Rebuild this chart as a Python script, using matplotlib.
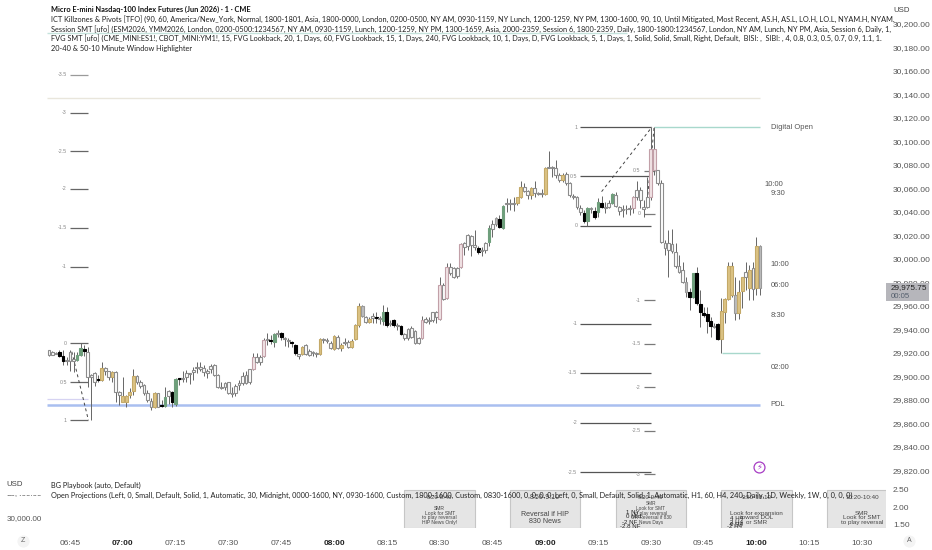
import matplotlib
matplotlib.use('Agg')
import matplotlib.pyplot as plt
from matplotlib.ticker import FuncFormatter
from matplotlib.transforms import Bbox

# one minute candles, first one is 06:39 (minutes since midnight)
first_minute = 399

body_top = [
    29922.5, 29921, 29920, 29920.5, 29917.5, 29914, 29921, 29914.5, 29918.25, 29924,
    29923, 29921, 29901.25, 29903.25, 29897.5, 29907.5, 29907, 29904.75, 29904, 29904,
    29887, 29883.75, 29883.75, 29887, 29900.25, 29900.25, 29895.5, 29892.75, 29886.25, 29879.5,
    29886.25, 29885.75, 29875.5, 29882.75, 29887.5, 29886.75, 29898.25, 29898.5, 29898.5, 29902.75,
    29902.75, 29905.5, 29907.75, 29908.5, 29907, 29905, 29909.25, 29909.75, 29901.25, 29891.5,
    29894.75, 29895, 29885.75, 29892.25, 29894.25, 29900.5, 29901.5, 29906, 29917, 29917,
    29917, 29931.5, 29932.25, 29931.5, 29936, 29937.25, 29936.75, 29932.5, 29931, 29929.75,
    29926.75, 29919.25, 29925.5, 29926.75, 29922, 29920.5, 29919.75, 29931.75, 29931.75, 29931,
    29928.75, 29934.5, 29934, 29926.75, 29929.5, 29929.75, 29930.5, 29943.75, 29960, 29960,
    29951, 29948.75, 29951.5, 29951, 29949.75, 29955.25, 29954.5, 29945.75, 29948, 29943.75,
    29943.25, 29936.25, 29940.25, 29941, 29938.75, 29932.5, 29948, 29948.75, 29948, 29954.5,
    29955.25, 29977.9, 29977.9, 29993.5, 29993.5, 29992, 29992, 30012.8, 30013.4, 30020.4,
    30019.6, 30011.9, 30009.1, 30007.7, 30013.9, 30026.1, 30029.8, 30034.6, 30033.8, 30045.4,
    30047.4, 30047.4, 30047.4, 30052.5, 30061.6, 30061.6, 30058.2, 30060.2, 30060.2, 30056.2,
    30055.9, 30077.2, 30078, 30078, 30077.2, 30071.5, 30071.5, 30072.1, 30064.4, 30053.6,
    30053, 30043.7, 30039.4, 30043.1, 30043.4, 30041.1, 30048.8, 30047.9, 30044.5, 30047.9,
    30055.3, 30054.5, 30044, 30042.5, 30042.8, 30043.1, 30052.5, 30058.7, 30058.7, 30044,
    30052.5, 30093.3, 30093.3, 30075.7, 30064.4, 30013.9, 30013.3, 30012.8, 30006.2, 29994,
    29990.6, 29980.7, 29972.2, 29987.8, 29988.4, 29961.7, 29954.3, 29952.9, 29947.2, 29943,
    29944.4, 29956, 29965.7, 29994, 29994, 29969.4, 29972.2, 29985, 29989.2, 29990.6,
    29992, 30011, 30011,
]
body_bot = [
    29918.5, 29918.5, 29919.5, 29917.5, 29913, 29913, 29913, 29913, 29914, 29918.25,
    29922, 29899.75, 29899.75, 29895.5, 29897, 29897, 29905, 29899.25, 29899.75, 29887,
    29884.25, 29878.5, 29878.5, 29884.25, 29888, 29895.5, 29892, 29886.25, 29880, 29873.75,
    29874.25, 29874.25, 29875, 29875, 29883.5, 29878.5, 29877, 29898, 29898.25, 29900,
    29901.75, 29904, 29907, 29906.75, 29904, 29902.75, 29906, 29901.25, 29891.5, 29890.5,
    29890.75, 29886.25, 29884.75, 29885.75, 29892.75, 29894.75, 29894.75, 29895.25, 29906, 29912.75,
    29912.75, 29917.5, 29931.5, 29930.5, 29929.75, 29936, 29934, 29932, 29930.5, 29928.25,
    29919.75, 29917.5, 29919.25, 29919.25, 29918.25, 29920, 29919.25, 29919.25, 29931.25, 29930.25,
    29924, 29923, 29924, 29924, 29928.25, 29925.5, 29925.5, 29931.75, 29943.75, 29951.5,
    29946.75, 29946.75, 29949.5, 29949.75, 29949.25, 29947.5, 29943.75, 29944.75, 29943.75, 29943.25,
    29936.25, 29932.5, 29932.5, 29934, 29928.75, 29928.25, 29932.5, 29946.75, 29947.25, 29948,
    29950.5, 29948.7, 29966, 29966.5, 29987.8, 29985, 29985.5, 29992.9, 30009.9, 30011,
    30011.9, 30009.9, 30006.3, 30006.8, 30007.7, 30014.8, 30025.3, 30029.8, 30027.5, 30026.1,
    30046.5, 30046.8, 30046.8, 30047.4, 30052.5, 30058.2, 30054.5, 30054.5, 30056.5, 30055.6,
    30055.3, 30055, 30077.5, 30077.5, 30071.5, 30067.3, 30067.3, 30065, 30054.5, 30053,
    30044, 30040.3, 30032.6, 30032.6, 30042.5, 30036, 30040.3, 30044.5, 30043.7, 30044.5,
    30047.9, 30045.1, 30041.1, 30042, 30042.3, 30042.3, 30043.1, 30052.5, 30050.2, 30042.3,
    30044.5, 30052.5, 30075.7, 30064.4, 30014.8, 30009.1, 30007.7, 30007.1, 29994, 29989.2,
    29980.7, 29972.2, 29968, 29967.4, 29962.3, 29955.2, 29952.3, 29947.5, 29943, 29942.4,
    29931.6, 29931.6, 29955.2, 29965.7, 29969.4, 29953.8, 29954.3, 29972.8, 29985, 29975,
    29974.2, 29975, 29975.75,
]
highs = [
    29922.5, 29921.5, 29921, 29922.5, 29922.5, 29917, 29922.5, 29921, 29921, 29928.25,
    29926.75, 29925.5, 29902, 29904, 29901.25, 29912.75, 29908.5, 29905, 29904.75, 29905,
    29888, 29899.25, 29884.25, 29890, 29906, 29901.25, 29897, 29893.25, 29888.5, 29881.5,
    29887, 29886.25, 29880, 29891.25, 29888.5, 29888, 29899, 29899, 29905, 29905.5,
    29903.25, 29908.5, 29912.75, 29912, 29909.75, 29906, 29910.75, 29910.75, 29902, 29895.75,
    29895.75, 29895.75, 29890.75, 29893.5, 29897, 29904, 29905, 29906.75, 29920.25, 29919.75,
    29918.25, 29932.5, 29936.75, 29935.25, 29936.75, 29939.75, 29938.25, 29933.5, 29932.5, 29930.5,
    29927.5, 29919.5, 29926, 29928, 29923, 29922, 29921, 29932.5, 29932.5, 29932.5,
    29930.5, 29935.25, 29935, 29928.25, 29932.5, 29931, 29931.75, 29944.75, 29962.25, 29960.75,
    29951.5, 29950.5, 29953.75, 29955.25, 29951.5, 29960.75, 29959.5, 29948, 29948.75, 29945.25,
    29943.75, 29936.75, 29941, 29943, 29939.5, 29933.5, 29951.5, 29951, 29950.5, 29955.25,
    29956, 29984.4, 29979.3, 29996.3, 29996.3, 29993.5, 29993.5, 30013.4, 30014.8, 30021.3,
    30020.4, 30024.7, 30011, 30010, 30014.8, 30029, 30033.2, 30035.5, 30037.5, 30046,
    30051.7, 30050.8, 30053, 30053, 30066.7, 30064.4, 30058.7, 30061.6, 30066.7, 30057.3,
    30059.3, 30078, 30091.9, 30079.2, 30084.3, 30072.9, 30072.9, 30074.3, 30065.8, 30055.3,
    30053.6, 30046, 30041.7, 30044, 30044.5, 30044, 30051.6, 30053.6, 30048.8, 30050.2,
    30056.5, 30057.3, 30045.1, 30046, 30046, 30046, 30053.6, 30066.4, 30061.6, 30050.2,
    30070, 30112, 30112, 30075.7, 30067.2, 30016.2, 30024.7, 30025.2, 30013.3, 30003.4,
    29997.7, 29985, 29975, 29988.4, 29993.5, 29973.6, 29959.4, 29959.4, 29950.9, 29945.3,
    29945.3, 29966.5, 29966.5, 29997.7, 29997.7, 29985, 29982.1, 29985, 29997.7, 29994.9,
    29997.7, 30019, 30011.9,
]
lows = [
    29917.5, 29918, 29919, 29917, 29909.75, 29909.75, 29905, 29904, 29913.5, 29917.5,
    29917.5, 29891.25, 29863, 29892, 29895.5, 29896.5, 29901.25, 29897, 29895.5, 29878.5,
    29875.75, 29878.5, 29873.75, 29881.5, 29884.25, 29894, 29890, 29884.25, 29878.5, 29871.5,
    29873, 29873.75, 29873.75, 29874.25, 29877, 29873.75, 29875, 29892.75, 29895.75, 29895.75,
    29893.75, 29897, 29902.75, 29905, 29900.5, 29898.5, 29902.75, 29900.5, 29890, 29889,
    29888.5, 29885.25, 29883, 29883.5, 29888.5, 29892.75, 29893.75, 29893.75, 29905.5, 29911.25,
    29909.75, 29916.25, 29926.75, 29927.75, 29925.5, 29933.5, 29931.5, 29926, 29925.5, 29925.5,
    29918.25, 29914.75, 29918.25, 29918, 29917.5, 29917.5, 29917, 29918.25, 29928.25, 29928.25,
    29923, 29922.5, 29923, 29922, 29926.75, 29924.25, 29924.25, 29931, 29942.5, 29950.5,
    29945.75, 29945.25, 29945.25, 29945.25, 29944.75, 29943.75, 29941.75, 29943, 29941.75, 29940,
    29935.25, 29931, 29931, 29932.5, 29927.75, 29927.5, 29931.75, 29945.25, 29944.5, 29946.75,
    29945.75, 29948, 29965, 29965.7, 29986.4, 29983.6, 29983.6, 29992, 30003.4, 30007.7,
    30002.6, 30007.7, 30004.3, 30002.6, 30005.4, 30011, 30019, 30028, 30026.1, 30025.3,
    30040.3, 30041.7, 30041.2, 30046, 30051.7, 30057.3, 30050.8, 30050.8, 30053, 30054.5,
    30052.5, 30054.5, 30077.2, 30070.1, 30068.7, 30065.8, 30065.8, 30063, 30053, 30050.8,
    30042.3, 30037.4, 30030.4, 30028.1, 30038.9, 30033.8, 30035.5, 30043.1, 30038.9, 30043.1,
    30046.8, 30044, 30037.4, 30036, 30038.3, 30037.4, 30038.9, 30050.2, 30043.1, 30036,
    30043.1, 30050.2, 30071.5, 30063, 30013.3, 30003.4, 29985, 30004.8, 29992, 29987.8,
    29979.3, 29968, 29956.6, 29966.5, 29960.9, 29942.4, 29950.9, 29936.7, 29933.9, 29941,
    29931, 29920.3, 29945.3, 29965.1, 29968, 29948.1, 29948.7, 29958, 29973.6, 29965.1,
    29965.1, 29969.4, 29969.4,
]

# candle numbers (1 based) for the body colours, anything else is white
black_candles = [4, 5, 11, 15, 33, 36, 38, 64, 67, 70, 71, 94, 97, 99, 101, 123, 129, 153, 156, 158,
                 183, 185, 186, 187, 188, 189, 191]
green_candles = [9, 10, 34, 37, 65, 96, 126, 130, 154, 157, 161, 184]
tan_candles = [16, 19, 22, 23, 24, 25, 31, 73, 78, 82, 84, 87, 88, 89, 92, 134, 135, 138, 142, 147,
               192, 193, 194, 195, 197, 198, 200, 202]
pink_candles = [59, 62, 107, 112, 114, 118, 167, 172, 173]
grey_candles = [90, 128, 182, 196, 203]

# fib style levels: label, price
fib_a = [('0', 29928.5), ('0.5', 29895.3), ('1', 29863), ('-1', 29993.2), ('-1.5', 30026.4),
         ('-2', 30059.6), ('-2.5', 30091.9), ('-3', 30124.3), ('-3.5', 30156.6)]
fib_b = [('1', 30112.3), ('0.5', 30070.6), ('0', 30028.4), ('-1', 29944.7), ('-1.5', 29903),
         ('-2', 29860.5), ('-2.5', 29818.7)]
fib_c = [('0.5', 30075), ('0', 30038.3), ('-1', 29965.1), ('-1.5', 29927.7), ('-2', 29891),
         ('-2.5', 29854), ('-3', 29817)]
fib_a_span = (405, 410)
fib_b_span = (550, 570)
fib_c_span = (568, 571.2)

dashed_segments = [((405.5, 410.2), (29921.1, 29863)),
                   ((556, 570.3), (30057.3, 30112.3)),
                   ((570.9, 568.8), (30111.5, 30044))]

price_ticks = list(range(29820, 30201, 20))
last_price = 29975.75
pdl_price = 29876
digital_open = 30112.3
day_low = 29920.3

session_labels = [('10:00', 602.2, 30063), ('9:30', 604, 30055.5), ('10:00', 604, 29995.5),
                  ('06:00', 604, 29977.5), ('8:30', 604, 29952), ('02:00', 604, 29907.5)]

time_ticks = [405, 420, 435, 450, 465, 480, 495, 510, 525, 540, 555, 570, 585, 600, 615, 630]
time_labels = ['06:45', '07:00', '07:15', '07:30', '07:45', '08:00', '08:15', '08:30',
               '08:45', '09:00', '09:15', '09:30', '09:45', '10:00', '10:15', '10:30']
bold_times = ['07:00', '08:00', '09:00', '10:00']

box_starts = [500, 530, 560, 590, 620]
box_ends = [520, 550, 580, 610, 640]
box_titles = ['8:20-8:40', '8:50-9:10', '9:20-9:40', '9:50-10:10', '10:20-10:40']
box_bodies = [
    ['SMR', 'Look for SMT', 'to play reversal', 'HIP News Only!'],
    ['Reversal if HIP', '830 News'],
    ['SMR', 'Look for SMT', 'to play reversal', 'OR Reversal if 830', 'News Days'],
    ['Look for expansion', 'toward DOL', 'or SMR'],
    ['SMR', 'Look for SMT', 'to play reversal'],
]
box_sizes = [3.6, 5.1, 3.4, 4.5, 4.5]

header_lines = [
    'ICT Killzones & Pivots [TFO] (90, 60, America/New_York, Normal, 1800-1801, Asia, 1800-0000, London, 0200-0500, NY AM, 0930-1159, NY Lunch, 1200-1259, NY PM, 1300-1600, 90, 10, Until Mitigated, Most Recent, AS.H, AS.L, LO.H, LO.L, NYAM.H, NYAM.',
    'Session SMT [ufo] (ESM2026, YMM2026, London, 0200-0500:1234567, NY AM, 0930-1159, Lunch, 1200-1259, NY PM, 1300-1659, Asia, 2000-2359, Session 6, 1800-2359, Daily, 1800-1800:1234567, London, NY AM, Lunch, NY PM, Asia, Session 6, Daily, 1,',
    'FVG SMT [ufo] (CME_MINI:ES1!, CBOT_MINI:YM1!, 15, FVG Lookback, 20, 1, Days, 60, FVG Lookback, 15, 1, Days, 240, FVG Lookback, 10, 1, Days, D, FVG Lookback, 5, 1, Days, 1, Solid, Solid, Small, Right, Default,  BISI: ,  SIBI: , 4, 0.8, 0.3, 0.5, 0.7, 0.9, 1.1, 1.',
    '20-40 & 50-10 Minute Window Highlighter',
]
playbook_title = 'BG Playbook (auto, Default)'
projections = 'Open Projections (Left, 0, Small, Default, Solid, 1, Automatic, 30, Midnight, 0000-1600, NY, 0930-1600, Custom, 1800-1600, Custom, 0830-1600, 0, 0, 0, 0, Left, 0, Small, Default, Solid, 1, Automatic, H1, 60, H4, 240, Daily, 1D, Weekly, 1W, 0, 0, 0, 0)'

LEGEND_FONT = 'Lato'
AXIS_FONT = 'Liberation Sans'
W, H = 932, 550


def px_axes(fig, x0, y0, x1, y1):
    """axes from pixel box, y counted from the top"""
    return fig.add_axes([x0 / W, 1 - y1 / H, (x1 - x0) / W, (y1 - y0) / H])


def candle_color(n):
    if n in black_candles:
        return '#000000', '#000000'
    if n in green_candles:
        return '#6f9f7c', '#6f9f7c'
    if n in tan_candles:
        return '#dcc384', '#c4a968'
    if n in pink_candles:
        return '#f1e4e6', '#c2a0a8'
    if n in grey_candles:
        return '#bdbdbd', '#999999'
    return '#ffffff', '#8c8c8c'


def draw_candles(ax):
    minutes = [first_minute + i for i in range(len(highs))]
    ax.vlines(minutes, lows, highs, color='#666666', linewidth=0.7, zorder=3)
    for i, m in enumerate(minutes):
        face, edge = candle_color(i + 1)
        ax.bar(m, max(body_top[i] - body_bot[i], 0.6), bottom=body_bot[i], width=0.8,
               color=face, edgecolor=edge, linewidth=0.8, zorder=4)


def draw_fib(ax, levels, span, color):
    for label, price in levels:
        c = '#9a9a9a' if label == '-3.5' else color
        ax.hlines(price, span[0], span[1], color=c, linewidth=0.9, zorder=2)
        ax.text(span[0] - 0.9, price, label, ha='right', va='center', fontsize=3.8,
                color='#888888', family=AXIS_FONT)


fig = plt.figure(figsize=(W / 100, H / 100), dpi=100, facecolor='white')

# main price pane
ax = px_axes(fig, 0, 0, 886, 477)
ax.set_xlim(385.1, 636.8)
ax.set_ylim(29814.5, 30220.4)
for s in ax.spines.values():
    s.set_visible(False)
ax.yaxis.tick_right()
ax.set_yticks(price_ticks)
ax.yaxis.set_major_formatter(FuncFormatter(lambda v, p: f'{v:,.2f}'))
ax.tick_params(axis='y', length=0, pad=5, labelsize=6, labelcolor='#555555')
ax.set_xticks([])
for t in ax.get_yticklabels():
    t.set_family(AXIS_FONT)

ax.hlines(pdl_price, 398.5, 601, color='#a9bff0', linewidth=1.8, zorder=1)
ax.hlines(29880.5, 398.5, 410, color='#d6d3f2', linewidth=0.9, zorder=1)
ax.hlines(30137, 398.5, 601, color='#e9e6dc', linewidth=1.0, zorder=1)
ax.hlines(30192, 398.5, 563.2, color='#c5e3dc', linewidth=1.0, zorder=1)
ax.hlines(digital_open, 570.9, 601, color='#a8d8cc', linewidth=1.0, zorder=2)
ax.hlines(day_low, 590.1, 601, color='#a8d8cc', linewidth=1.0, zorder=2)

draw_fib(ax, fib_a, fib_a_span, '#666666')
draw_fib(ax, fib_b, fib_b_span, '#555555')
draw_fib(ax, fib_c, fib_c_span, '#7a7a7a')
for xs, ys in dashed_segments:
    ax.plot(xs, ys, color='#444444', linewidth=0.7, linestyle=(0, (3, 3)), zorder=2)

draw_candles(ax)

for label, m, price in session_labels:
    ax.text(m, price, label, fontsize=5.5, color='#555555', va='center', family=AXIS_FONT)
ax.text(604, digital_open, 'Digital Open', fontsize=5.4, color='#555555', va='center', family=AXIS_FONT)
ax.text(604, pdl_price, 'PDL', fontsize=5.4, color='#555555', va='center', family=AXIS_FONT)

# bottom pane
ax2 = px_axes(fig, 0, 478, 886, 528)
ax2.set_xlim(385.1, 636.8)
ax2.set_ylim(1.41, 2.84)
for s in ax2.spines.values():
    s.set_visible(False)
ax2.yaxis.tick_right()
ax2.set_yticks([1.5, 2.0, 2.5])
ax2.set_yticklabels(['1.50', '2.00', '2.50'], family=AXIS_FONT)
ax2.tick_params(axis='y', length=0, pad=5, labelsize=6, labelcolor='#555555')
ax2.set_xticks(time_ticks)
ax2.set_xticklabels(time_labels, family=AXIS_FONT)
ax2.tick_params(axis='x', length=0, pad=8.5, labelsize=6, labelcolor='#555555')
for t in ax2.get_xticklabels():
    if t.get_text() in bold_times:
        t.set_fontweight('bold')
        t.set_color('#222222')

for i in range(len(box_starts)):
    ax2.axvspan(box_starts[i], box_ends[i], ymin=0, ymax=0.76, facecolor='#e5e5e5',
                edgecolor='#c6c6c6', linewidth=0.8, zorder=1)
    mid = (box_starts[i] + box_ends[i]) / 2
    ax2.text(mid, 2.28, box_titles[i], ha='center', va='center', fontsize=max(box_sizes[i], 4.3),
             color='#444444', family=AXIS_FONT, zorder=2)
    ax2.text(mid, 1.49, '\n'.join(box_bodies[i]), ha='center', va='bottom', fontsize=box_sizes[i],
             color='#444444', family=AXIS_FONT, linespacing=0.95, zorder=2)

# pixel overlay for the legend lines and small badges
ov = fig.add_axes([0, 0, 1, 1], facecolor='none')
ov.set_xlim(0, W)
ov.set_ylim(H, 0)
ov.axis('off')

ov.text(51, 9, 'Micro E-mini Nasdaq-100 Index Futures (Jun 2026) · 1 · CME', fontsize=5.35,
        fontweight='bold', color='#111111', va='center', family=LEGEND_FONT)
for i, line in enumerate(header_lines):
    ov.text(51, 19 + i * 9.7, line, fontsize=5.3, color='#222222', va='center', family=LEGEND_FONT)
ov.text(51, 485, playbook_title, fontsize=5.35, color='#222222', va='center', family=LEGEND_FONT)
ov.text(51, 495, projections, fontsize=5.35, color='#222222', va='center', family=LEGEND_FONT)

# scribble of overlapping labels inside the boxes
for label, x, y in [('1 NY', 633, 513), ('0 Mid', 633, 517), ('-2 NF', 630, 523), ('-2.8 NF', 630, 526),
                    ('4 H4', 737, 519), ('2 H4', 737, 522), ('0 H4', 737, 525), ('-2 H4', 735, 527)]:
    ov.text(x, y, label, fontsize=4.4, color='#222222', ha='center', va='center', family=AXIS_FONT)

ov.text(893, 10, 'USD', fontsize=5.6, color='#444444', ha='left', va='center', family=AXIS_FONT)
ov.text(15, 485, 'USD', fontsize=5.6, color='#444444', ha='center', va='center', family=AXIS_FONT)
ov.text(24, 519, '30,000.00', fontsize=5.8, color='#555555', ha='center', va='center', family=AXIS_FONT)
cut = ov.text(24, 494, '30,400.00', fontsize=5.8, color='#555555', ha='center', va='center', family=AXIS_FONT)
cut.set_clip_box(Bbox([[0, H - 505], [50, H - 495]]))
cut.set_clip_on(True)

# last price tag
ov.add_patch(plt.Rectangle((886, 283), 43, 18, facecolor='#b6b6bb', edgecolor='none', zorder=5))
ov.text(891, 287.5, f'{last_price:,.2f}', fontsize=5.9, color='#222222', va='center', family=AXIS_FONT, zorder=6)
ov.text(891, 296, '00:05', fontsize=5.6, color='#55606e', va='center', family=AXIS_FONT, zorder=6)

# lightning badge and corner buttons
ov.scatter([759], [467], s=62, facecolor='white', edgecolor='#a63cc4', linewidth=0.9, zorder=5)
ov.text(759, 467, '\u26a1', fontsize=6, color='#a63cc4', ha='center', va='center', zorder=6, family='DejaVu Sans')
ov.scatter([23, 909], [541, 541], s=60, color='#f4f4f4', zorder=1)
ov.text(23, 541, 'Z', fontsize=5, color='#666666', ha='center', va='center', family=AXIS_FONT)
ov.text(909, 541, 'A', fontsize=5, color='#666666', ha='center', va='center', family=AXIS_FONT)

fig.savefig('out.png', dpi=100)
print(len(body_top), len(body_bot), len(highs), len(lows))
